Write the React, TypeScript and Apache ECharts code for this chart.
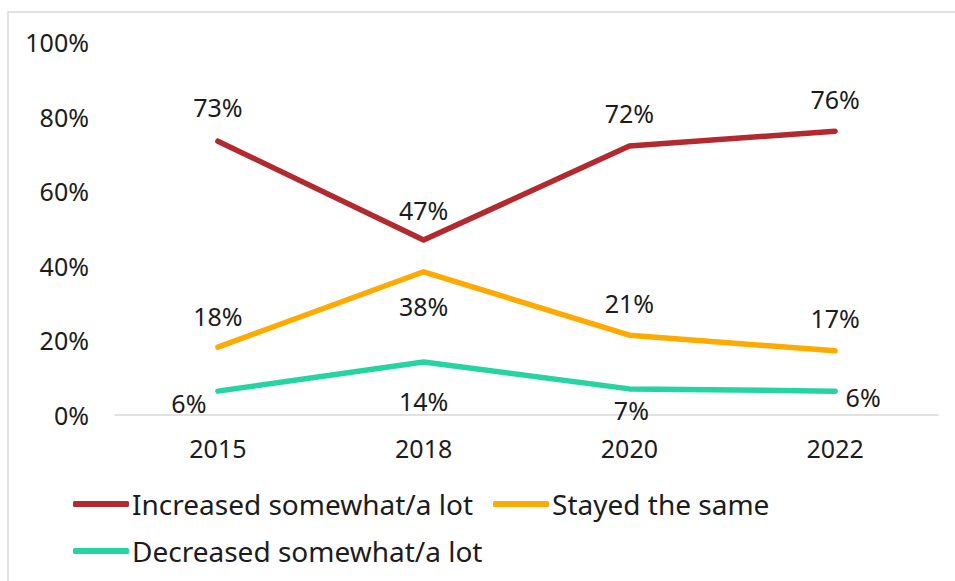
import React, { useEffect, useRef } from "react";
import * as echarts from "echarts";

const years = ["2015", "2018", "2020", "2022"];
const increased = [73.4, 46.9, 72.1, 76.1];
const stayed = [18.2, 38.4, 21.4, 17.2];
const decreased = [6.4, 14.2, 7.0, 6.4];

const seriesNames = ["Increased somewhat/a lot", "Stayed the same", "Decreased somewhat/a lot"];
const colors = ["#B22A2F", "#FFAA00", "#26D4A2"];

// per-point label offsets (label centre relative to point)
const incOffsets = [[0, -34], [0, -30], [0, -33], [0, -32]];
const staOffsets = [[0, -31], [0, 34], [0, -32], [0, -33]];
const decOffsets = [[-29, 12], [0, 39], [2, 21], [28, 6]];

const FONT = "Noto Sans";
const TEXT = "#1c1c1c";

function mk(values: number[], offsets: number[][]) {
  return values.map((v, i) => ({ value: v, label: { offset: offsets[i] } }));
}

export default function App() {
  const ref = useRef<HTMLDivElement>(null);
  useEffect(() => {
    if (!ref.current) return;
    const chart = echarts.init(ref.current, undefined, { renderer: "svg" });
    const labelCfg = {
      show: true,
      position: "inside",
      fontFamily: FONT,
      fontSize: 25,
      color: TEXT,
      formatter: (p: any) => Math.round(p.value) + "%",
    };
    const mkSeries = (name: string, data: any[], color: string) => ({
      name,
      type: "line",
      data,
      symbol: "circle",
      symbolSize: 2,
      itemStyle: { color },
      lineStyle: { color, width: 5.5, cap: "round", join: "round" },
      label: labelCfg,
      z: 3,
    });
    const legendText = { fontFamily: FONT, fontSize: 28, color: TEXT, lineHeight: 30, padding: [0, 0, 0, -2] };
    chart.setOption({
      animation: false,
      backgroundColor: "#ffffff",
      textStyle: { fontFamily: FONT },
      graphic: [
        {
          type: "rect",
          shape: { x: 8, y: 12, width: 1000, height: 1000 },
          style: { fill: "none", stroke: "#d9d9d9", lineWidth: 1.5 },
          silent: true,
        },
      ],
      grid: { left: 115, right: 17, top: 42, bottom: 166, containLabel: false },
      xAxis: {
        type: "category",
        data: years,
        boundaryGap: true,
        axisLine: { show: true, lineStyle: { color: "#d9d9d9", width: 1.5 } },
        axisTick: { show: false },
        axisLabel: { fontFamily: FONT, fontSize: 25, color: TEXT, margin: 20 },
      },
      yAxis: {
        type: "value",
        min: 0,
        max: 100,
        interval: 20,
        axisLine: { show: false },
        axisTick: { show: false },
        splitLine: { show: false },
        axisLabel: {
          fontFamily: FONT,
          fontSize: 25,
          color: TEXT,
          margin: 26,
          formatter: (v: number) => v + "%",
        },
      },
      legend: [
        {
          data: [seriesNames[0], seriesNames[1]],
          left: 73,
          top: 489,
          padding: 0,
          icon: "roundRect",
          itemWidth: 56,
          itemHeight: 6,
          itemGap: 20,
          textStyle: legendText,
        },
        {
          data: [seriesNames[2]],
          left: 73,
          top: 536,
          padding: 0,
          icon: "roundRect",
          itemWidth: 56,
          itemHeight: 6,
          itemGap: 20,
          textStyle: legendText,
        },
      ],
      series: [
        mkSeries(seriesNames[0], mk(increased, incOffsets), colors[0]),
        mkSeries(seriesNames[1], mk(stayed, staOffsets), colors[1]),
        mkSeries(seriesNames[2], mk(decreased, decOffsets), colors[2]),
      ],
    });
    return () => chart.dispose();
  }, []);
  return (
    <div
      ref={ref}
      style={{ position: "absolute", left: 0, top: 0, width: 955, height: 581 }}
    />
  );
}
